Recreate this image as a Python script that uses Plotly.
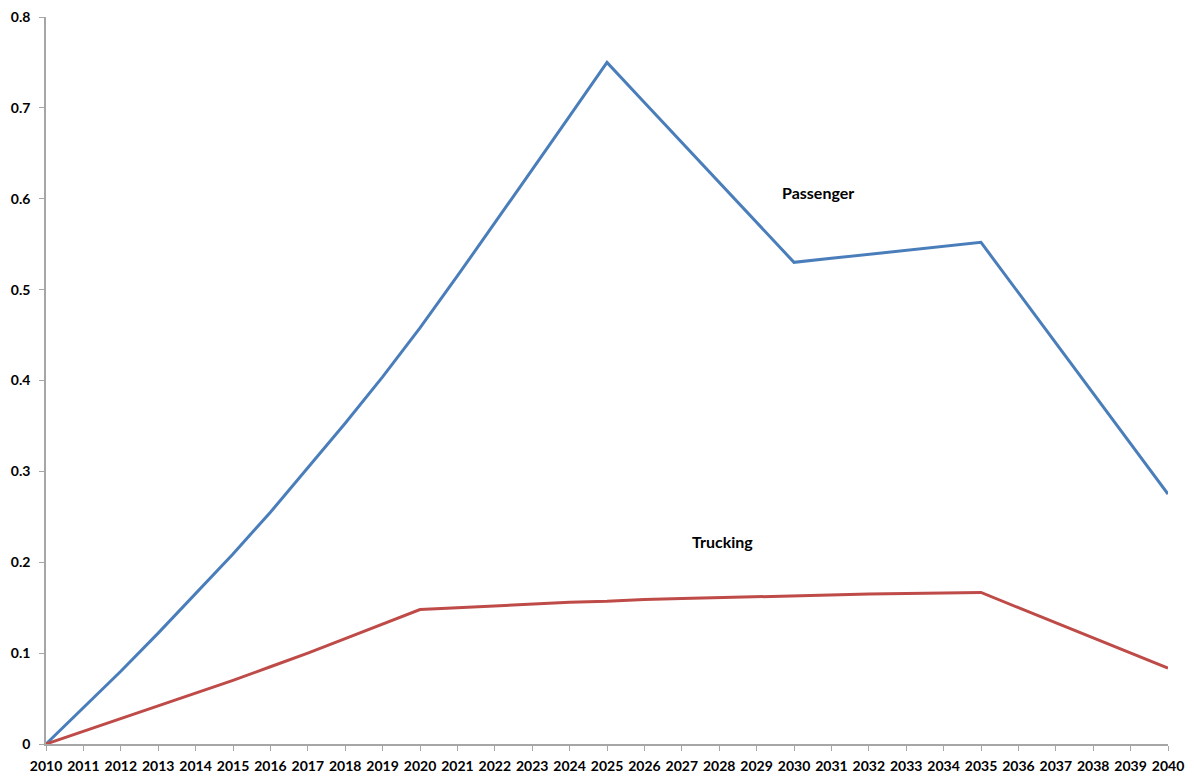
import plotly.graph_objects as go

years = list(range(2010, 2041))

passenger = [
    0.0, 0.040, 0.080, 0.122, 0.165, 0.209, 0.255, 0.304, 0.353, 0.404,
    0.458, 0.515, 0.573, 0.632, 0.691, 0.750, 0.706, 0.662, 0.618, 0.574,
    0.530, 0.5344, 0.5388, 0.5432, 0.5476, 0.552, 0.4966, 0.4412, 0.3858, 0.3304,
    0.275,
]

trucking = [
    0.0, 0.014, 0.028, 0.042, 0.056, 0.070, 0.085, 0.100, 0.116, 0.132,
    0.148, 0.150, 0.152, 0.154, 0.156, 0.157, 0.159, 0.160, 0.161, 0.162,
    0.1635, 0.164, 0.165, 0.1655, 0.166, 0.1668, 0.150, 0.1335, 0.117, 0.100,
    0.0835,
]

y_ticks = [0, 0.1, 0.2, 0.3, 0.4, 0.5, 0.6, 0.7, 0.8]
y_labels = ["0", "0.1", "0.2", "0.3", "0.4", "0.5", "0.6", "0.7", "0.8"]

label_names = ["Passenger", "Trucking"]
label_x = [2030.65, 2028.1]
label_y = [0.607, 0.223]

font_family = "Lato, 'Open Sans', sans-serif"

fig = go.Figure()
fig.add_trace(
    go.Scatter(
        x=years,
        y=passenger,
        name="Passenger",
        mode="lines",
        line=dict(color="#4A7EBB", width=3),
    )
)
fig.add_trace(
    go.Scatter(
        x=years,
        y=trucking,
        name="Trucking",
        mode="lines",
        line=dict(color="#BE4B48", width=3),
    )
)

for name, lx, ly in zip(label_names, label_x, label_y):
    fig.add_annotation(
        x=lx,
        y=ly,
        text="<b>%s</b>" % name,
        showarrow=False,
        font=dict(family=font_family, size=16, color="black"),
    )

axis_style = dict(
    showgrid=False,
    zeroline=False,
    showline=True,
    linecolor="#A6A6A6",
    linewidth=1.5,
    ticks="outside",
    ticklen=5,
    tickcolor="#A6A6A6",
    automargin=False,
    ticklabeloverflow="allow",
    tickfont=dict(family=font_family, size=14, color="black"),
)

# the page body has an 8px margin top/left, so shrink the figure to fit the window
fig.update_layout(
    width=1186,
    height=768,
    paper_bgcolor="white",
    plot_bgcolor="white",
    showlegend=False,
    margin=dict(l=38, r=26, t=9, b=32),
    font=dict(family=font_family, size=14, color="black"),
    xaxis=dict(
        range=[2010, 2040],
        tickmode="array",
        tickvals=years,
        ticktext=["<b>%d</b>" % y for y in years],
        ticklabelstandoff=3,
        **axis_style,
    ),
    yaxis=dict(
        range=[0, 0.8],
        tickmode="array",
        tickvals=y_ticks,
        ticktext=["<b>%s</b>" % t for t in y_labels],
        ticklabelstandoff=6,
        **axis_style,
    ),
)

fig.write_html("out.html")
